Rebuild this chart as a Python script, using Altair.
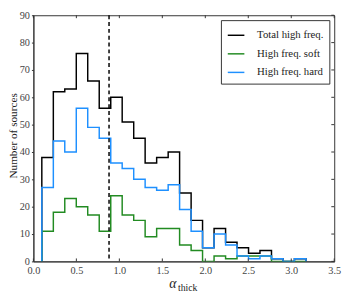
import altair as alt
import pandas as pd

# bin edges of the histogram (alpha_thick)
edges = [0.098, 0.232, 0.365, 0.499, 0.632, 0.766, 0.900, 1.033, 1.167, 1.300,
         1.434, 1.568, 1.701, 1.835, 1.968, 2.102, 2.236, 2.369, 2.503, 2.636,
         2.770, 2.904, 3.037, 3.171]
total = [38, 62, 63, 76, 66, 56, 60, 51, 45, 36, 38, 40, 25, 15, 5, 12, 7, 5, 3, 4, 1, 0, 1]
soft = [11, 18, 23, 20, 17, 11, 24, 17, 15, 9, 12, 12, 6, 4, 0, 2, 1, 2, 2, 2, 0, 0, 0]
hard = [27, 44, 40, 56, 49, 45, 36, 34, 30, 27, 26, 28, 19, 11, 5, 10, 6, 2, 1, 2, 1, 0, 1]
series_names = ["Total high freq.", "High freq. soft", "High freq. hard"]
series_colors = ["#000000", "#228B22", "#1E90FF"]
vline = [0.88]
x_ticks = [0.0, 0.5, 1.0, 1.5, 2.0, 2.5, 3.0, 3.5]
y_ticks = [0, 10, 20, 30, 40, 50, 60, 70, 80, 90]

rows = []
for name, counts in zip(series_names, [total, soft, hard]):
    k = 0
    rows.append({"series": name, "x": edges[0], "y": 0, "o": k}); k += 1
    for i, c in enumerate(counts):
        rows.append({"series": name, "x": edges[i], "y": c, "o": k}); k += 1
    rows.append({"series": name, "x": edges[-1], "y": counts[-1], "o": k}); k += 1
    rows.append({"series": name, "x": edges[-1], "y": 0, "o": k}); k += 1
df = pd.DataFrame(rows)

W, H = 308, 252
FONT = "Liberation Serif"
xscale = alt.Scale(domain=[0, 3.5], nice=False, zero=False)
yscale = alt.Scale(domain=[0, 90], nice=False, zero=True)

xaxis = alt.Axis(values=x_ticks, format=".1f", ticks=False, grid=False,
                 labelPadding=4, title=None, domainColor="#333",
                 labelOverlap=False, labelFlush=False,
                 labelFont=FONT, labelFontSize=10.5, labelColor="#444")
yaxis = alt.Axis(values=y_ticks, tickSize=2, grid=False, labelPadding=2,
                 labelOverlap=False, labelFlush=False, format="d",
                 labelFont=FONT, labelFontSize=10.5, labelColor="#444",
                 title="Number of sources", titleFontSize=11.5,
                 titleX=-20, titleY=H / 2 - 3, titleBaseline="middle",
                 titleAngle=270, titleAlign="center",
                 titleFont=FONT, titleFontWeight="normal", titleColor="#222",
                 domainColor="#333", tickColor="#333")

lines = alt.Chart(df).mark_line(interpolate="step-after", strokeWidth=1.5, clip=True).encode(
    x=alt.X("x:Q", scale=xscale, axis=xaxis),
    y=alt.Y("y:Q", scale=yscale, axis=yaxis),
    color=alt.Color("series:N", scale=alt.Scale(domain=series_names, range=series_colors),
                    sort=series_names,
                    legend=alt.Legend(title=None, orient="top-right", offset=5,
                                      symbolType="stroke", symbolSize=289,
                                      symbolStrokeWidth=1.5, labelFont=FONT,
                                      labelFontSize=11, labelColor="#222",
                                      labelOffset=12, rowPadding=4, padding=6,
                                      strokeColor="#333", fillColor="white",
                                      cornerRadius=0)),
    detail="series:N",
    order="o:Q",
)

vdf = pd.DataFrame({"x": vline})
dashed = alt.Chart(vdf).mark_rule(color="black", strokeWidth=1.5, strokeDash=[4, 3]).encode(
    x=alt.X("x:Q", scale=xscale, axis=xaxis)
)

xt = pd.DataFrame({"x": x_ticks})
yt = pd.DataFrame({"y": y_ticks})
top_ticks = alt.Chart(xt).mark_rule(color="#333").encode(
    x=alt.X("x:Q", scale=xscale, axis=xaxis), y=alt.value(0), y2=alt.value(3))
bot_ticks = alt.Chart(xt).mark_rule(color="#333").encode(
    x=alt.X("x:Q", scale=xscale, axis=xaxis), y=alt.value(H), y2=alt.value(H - 3))
right_ticks = alt.Chart(yt).mark_rule(color="#333").encode(
    y=alt.Y("y:Q", scale=yscale, axis=yaxis), x=alt.value(W), x2=alt.value(W - 3))

alpha = alt.Chart(pd.DataFrame({"s": ["α"]})).mark_text(
    font=FONT, fontSize=14, fontStyle="italic", align="left", baseline="alphabetic", color="#222"
).encode(text="s:N", x=alt.value(139), y=alt.value(H + 27))
sub = alt.Chart(pd.DataFrame({"s": ["thick"]})).mark_text(
    font=FONT, fontSize=10, align="left", baseline="alphabetic", color="#222"
).encode(text="s:N", x=alt.value(148), y=alt.value(H + 30))

chart = alt.layer(lines, dashed, top_ticks, bot_ticks, right_ticks, alpha, sub).properties(
    width=W, height=H,
    autosize=alt.AutoSizeParams(type="none"),
    padding={"left": 26, "top": 4, "right": 10, "bottom": 32},
).configure_view(stroke="#333", strokeWidth=1)

chart.save("out.html", embed_options={"renderer": "svg", "actions": False})
